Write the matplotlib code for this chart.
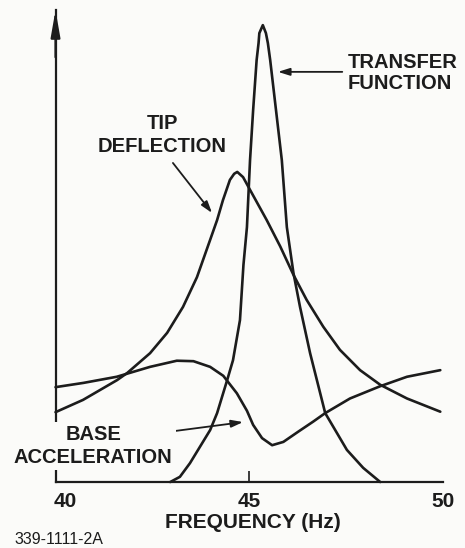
import numpy as np
import matplotlib
matplotlib.use("Agg")
import matplotlib.pyplot as plt

# values (frequency in Hz, amplitude in relative units 0-100)
tf_freq = [42.96, 43.21, 43.47, 43.99, 44.17, 44.43, 44.58, 44.76, 44.85, 44.94, 45.02,
           45.10, 45.19, 45.24, 45.26, 45.35, 45.43, 45.48, 45.54, 45.69, 45.84, 45.97,
           46.14, 46.31, 46.57, 46.96, 47.52, 47.94, 48.38]
tf_amp = [0, 1.1, 4.0, 11.0, 14.6, 21.6, 25.8, 34.3, 46.0, 54.0, 68.2,
          78.8, 89.4, 93.0, 95.1, 96.8, 95.1, 93.0, 89.4, 78.8, 68.2, 54.0,
          44.3, 37.1, 27.3, 14.6, 6.8, 3.0, 0]

tip_freq = [40.00, 40.71, 41.59, 41.85, 42.44, 42.88, 43.29, 43.65, 43.99, 44.17, 44.32,
            44.50, 44.61, 44.69, 44.84, 45.02, 45.45, 45.80, 46.14, 46.48, 46.91, 47.34,
            47.86, 48.38, 49.07, 49.93]
tip_amp = [14.8, 17.4, 21.6, 23.1, 27.3, 31.6, 37.1, 43.4, 51.3, 55.5, 59.7,
           64.0, 65.3, 65.7, 64.6, 61.9, 55.5, 49.9, 43.9, 38.6, 32.9, 28.0,
           23.7, 20.6, 17.7, 14.9]

base_freq = [40.00, 40.72, 41.58, 42.44, 43.13, 43.56, 43.99, 44.33, 44.68, 44.94, 45.10,
             45.33, 45.59, 45.88, 46.27, 46.65, 46.96, 47.60, 48.38, 49.07, 49.93]
base_amp = [20.1, 21.0, 22.3, 24.4, 25.7, 25.6, 24.4, 22.5, 18.8, 15.1, 12.1,
            9.3, 7.8, 8.5, 10.7, 12.8, 14.6, 17.7, 20.3, 22.3, 23.7]

tick_vals = [40, 45, 50]
tick_labels = ["40", "45", "50"]

bg = "#fbfbf9"
ink = "#1c1c1c"
font = dict(family="Liberation Sans", weight="bold", color=ink)

fig = plt.figure(figsize=(4.65, 5.48), dpi=100, facecolor=bg)
ax = fig.add_axes([0.1194, 0.1204, 0.8333, 0.8613])
ax.set_facecolor(bg)
ax.set_xlim(40, 50)
ax.set_ylim(0, 100)

for s in ["top", "right"]:
    ax.spines[s].set_visible(False)
for s in ["left", "bottom"]:
    ax.spines[s].set_linewidth(1.6)
    ax.spines[s].set_color(ink)
ax.set_yticks([])
ax.set_xticks([45])
ax.set_xticklabels([""])
ax.tick_params(axis="x", direction="in", length=8, width=1.2, color=ink)

# arrow head on the y axis
ax.annotate("", xy=(40, 1.0), xytext=(40, 0.9),
            xycoords=("data", "axes fraction"),
            arrowprops=dict(arrowstyle="-|>,head_length=1.6,head_width=0.28",
                            color=ink, lw=1.6, shrinkA=0, shrinkB=0),
            annotation_clip=False)

lw = 1.9
for fx, fy in [(tf_freq, tf_amp), (tip_freq, tip_amp), (base_freq, base_amp)]:
    ax.plot(fx, fy, color=ink, lw=lw, solid_joinstyle="round",
            solid_capstyle="round", clip_on=False)

arrow = dict(arrowstyle="-|>,head_length=0.7,head_width=0.22", color=ink, lw=1.3,
             shrinkA=0, shrinkB=0)

ax.text(47.55, 86.7, "TRANSFER\nFUNCTION", ha="left", va="center", fontsize=14.5,
        linespacing=1.1, **font)
ax.annotate("", xy=(45.74, 86.9), xytext=(47.40, 86.9), arrowprops=arrow)

ax.text(42.75, 73.6, "TIP\nDEFLECTION", ha="center", va="center", fontsize=14.5,
        linespacing=1.25, **font)
ax.annotate("", xy=(44.04, 57.0), xytext=(43.03, 67.6), arrowprops=arrow)

ax.text(40.97, 7.6, "BASE\nACCELERATION", ha="center", va="center", fontsize=14.5,
        linespacing=1.3, zorder=5, clip_on=False,
        bbox=dict(boxstyle="square,pad=0.15", fc=bg, ec="none"), **font)
ax.annotate("", xy=(44.84, 12.7), xytext=(42.70, 10.4), arrowprops=arrow)

tick_ha = ["left", "center", "center"]
for v, lab, ha in zip(tick_vals, tick_labels, tick_ha):
    ax.text(v - 0.06 if ha == "left" else v, -4.2, lab, ha=ha, va="center",
            fontsize=15, clip_on=False, **font)

ax.text(45.10, -8.6, "FREQUENCY (Hz)", ha="center", va="center", fontsize=15,
        clip_on=False, **font)
ax.text(38.93, -12.2, "339-1111-2A", ha="left", va="center", fontsize=11.5,
        family="Liberation Sans", color=ink, clip_on=False)

fig.savefig("out.png", dpi=100, facecolor=bg)
